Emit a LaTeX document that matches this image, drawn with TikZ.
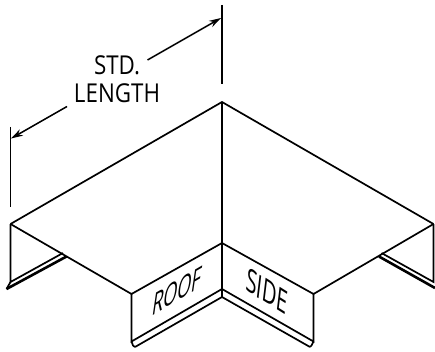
\documentclass[tikz,border=0pt]{standalone}
\usepackage{fontspec}
\setmainfont{Open Sans}
\usetikzlibrary{arrows.meta}
\tikzset{
  ln/.style={draw=black,line width=1.7pt,line join=miter},
  thick line/.style={draw=black,line width=2.6pt},
  dim/.style={draw=black,line width=1.5pt},
  dimarrow/.style={draw=black,line width=1.5pt,-{Stealth[length=12pt,width=7pt]}},
  lab/.style={font=\fontsize{26}{28}\selectfont,inner sep=0pt,text=black,xscale=0.86,transform shape},
  panel/.style={font=\fontsize{21}{22}\selectfont,inner sep=0pt,text=black,transform shape}
}
\begin{document}
\begin{tikzpicture}[x=1pt,y=-1pt]
\useasboundingbox (0,0) rectangle (435,352);
% key points
\coordinate (A) at (222,102);
\coordinate (L) at (10.5,224);
\coordinate (R) at (433.5,224);
\coordinate (BL) at (131.5,294);
\coordinate (BR) at (313.5,294);
\coordinate (M) at (222,243);
\coordinate (Mb) at (222,289);
\coordinate (Mc) at (222,297);
\coordinate (BLb) at (131.5,341.5);
\coordinate (BRb) at (313.5,341.5);
\coordinate (BLc) at (135,347);
\coordinate (BRc) at (310,347);
% top surface
\draw[ln] (L) -- (A) -- (R);
\draw[ln] (L) -- (BL) -- (M) -- (BR) -- (R);
\draw[ln] (A) -- (Mc);
% panels
\draw[ln] (BL) -- (BLb) -- (Mb) -- (BRb) -- (BR);
\draw[ln] (BLc) -- (Mc) -- (BRc);
\draw[ln] (BLb) -- (133,345.5) -- (BLc);
\draw[ln] (BRb) -- (311.5,345.5) -- (BRc);
% left flap
\coordinate (LF) at (10.5,282);
\coordinate (LFe) at (63,253);
\coordinate (LT) at (6.5,289);
\coordinate (LTe) at (66.5,256.5);
\draw[ln] (L) -- (LF) -- (LFe);
\draw[thick line] (LT) -- (LTe);
\draw[ln] (LF) -- (LT);
% right flap
\coordinate (RF) at (433.5,282);
\coordinate (RFe) at (381.5,253);
\coordinate (RT) at (435,288);
\coordinate (RTe) at (379,256.5);
\draw[ln] (R) -- (RF) -- (RFe);
\draw[thick line] (RT) -- (RTe);
% dimensions
\coordinate (D1a) at (222,5);
\coordinate (D1b) at (222,84);
\coordinate (D2a) at (10.5,127);
\coordinate (D2b) at (10.5,207);
\draw[dim] (D1a) -- (D1b);
\draw[dim] (D2a) -- (D2b);
\coordinate (E1) at (147.5,60);
\coordinate (E1t) at (221,18);
\coordinate (E2) at (67,106.5);
\coordinate (E2t) at (11,138.5);
\draw[dimarrow] (E1) -- (E1t);
\draw[dimarrow] (E2) -- (E2t);
% text
\node[panel,cm={0.86,0.5,0.22,1.5,(0,0)}] (roof) at (177,291) {ROOF};
\node[panel,cm={0.92,-0.58,0.18,1.5,(0,0)}] (side) at (267,291) {SIDE};
\node[lab] (std) at (117,65) {STD.};
\node[lab] (len) at (117,93) {LENGTH};
\end{tikzpicture}
\end{document}
